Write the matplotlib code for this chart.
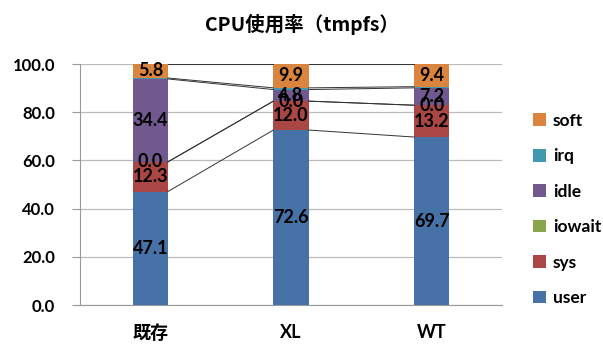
import matplotlib
matplotlib.use("Agg")
import matplotlib.pyplot as plt
from matplotlib.patches import Patch
import numpy as np

plt.rcParams['font.family'] = ['Lato', 'Noto Sans CJK JP', 'DejaVu Sans']

categories = ['既存', 'XL', 'WT']
series_names = ['user', 'sys', 'iowait', 'idle', 'irq', 'soft']
user = [47.1, 72.6, 69.7]
sys_ = [12.3, 12.0, 13.2]
iowait = [0.0, 0.0, 0.0]
idle = [34.4, 4.8, 7.2]
irq = [0.4, 0.7, 0.5]
soft = [5.8, 9.9, 9.4]
series_values = [user, sys_, iowait, idle, irq, soft]
labeled = ['user', 'sys', 'iowait', 'idle', 'soft']
colors = ['#4672A8', '#AA4643', '#89A54E', '#71588F', '#4198AF', '#DB843D']

fig = plt.figure(figsize=(6.03, 3.49), dpi=100)
ax = fig.add_axes([0.1327, 0.126, 0.6998, 0.6906])

x = np.arange(len(categories))
width = 0.25
bottom = np.zeros(len(categories))
tops = []
for name, vals, col in zip(series_names, series_values, colors):
    vals = np.array(vals)
    ax.bar(x, vals, width, bottom=bottom, color=col, zorder=3, linewidth=0)
    if name in labeled:
        for xi, b, v in zip(x, bottom, vals):
            ax.text(xi, b + v / 2, f'{v:.1f}', ha='center', va='center',
                    fontsize=13, fontweight='bold', color='black', zorder=5)
    bottom = bottom + vals
    tops.append(bottom.copy())

# series lines joining segment tops between neighbouring bars
for t in tops:
    for i in range(len(categories) - 1):
        ax.plot([x[i] + width / 2, x[i + 1] - width / 2], [t[i], t[i + 1]],
                color='#333333', linewidth=0.7, zorder=4)

ax.set_xlim(-0.5, 2.5)
ax.set_ylim(0, 100)
ax.set_yticks(np.arange(0, 101, 20))
ax.set_yticklabels([f'{v:.1f}' for v in np.arange(0, 101, 20)],
                   fontsize=12, fontweight='bold')
ax.set_xticks(x)
ax.set_xticklabels(categories, fontsize=13, fontweight='bold')
ax.tick_params(axis='x', length=0, pad=14)
ax.tick_params(axis='y', length=6, color='#999999', width=0.8, pad=12)
ax.grid(axis='y', color='#BBBBBB', linewidth=0.9, zorder=0)
for s in ['top', 'right']:
    ax.spines[s].set_visible(False)
ax.spines['left'].set_color('#999999')
ax.spines['bottom'].set_color('#999999')

fig.text(0.5, 0.93, 'CPU使用率（tmpfs）', ha='center', va='center',
         fontsize=14, fontweight='bold',
         family=['Noto Sans CJK JP', 'Lato'])

handles = [Patch(facecolor=c, edgecolor='none') for c in colors]
leg = fig.legend(handles[::-1], series_names[::-1], loc='center left',
                 bbox_to_anchor=(0.858, 0.40), frameon=False,
                 prop={'weight': 'bold', 'size': 12.5},
                 handlelength=0.75, handleheight=0.75, handletextpad=0.4,
                 labelspacing=1.12)

fig.savefig('out.png', dpi=100)
